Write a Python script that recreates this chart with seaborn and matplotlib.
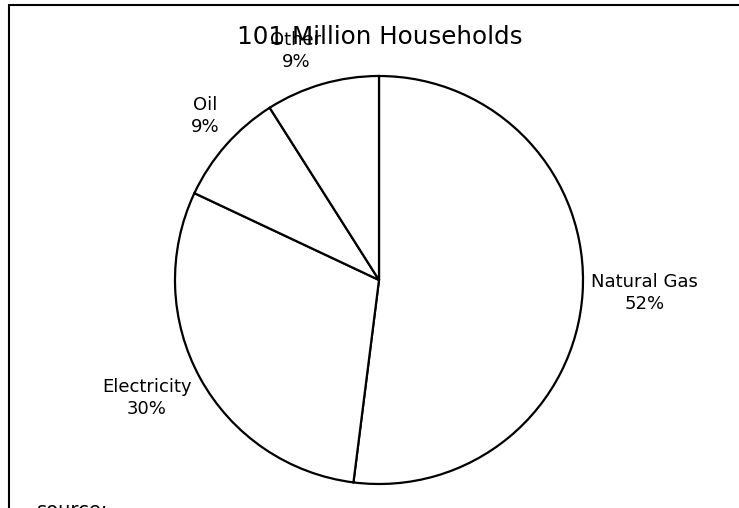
import matplotlib
matplotlib.use("Agg")
import matplotlib.pyplot as plt
import seaborn as sns
from matplotlib.lines import Line2D

categories = ["Natural Gas", "Electricity", "Oil", "Other"]
shares = [52, 30, 9, 9]
title_text = "101 Million Households"
source_text = "source:"

# label block centres (pie radius = 1)
label_pos = [(1.30, -0.064), (-1.139, -0.578), (-0.853, 0.804), (-0.407, 1.123)]

sns.set_theme(style="white")
plt.rcParams["font.family"] = ["DejaVu Sans"]

fig = plt.figure(figsize=(7.39, 5.08), dpi=100)
fig.patch.set_facecolor("white")

ax = fig.add_axes([175 / 739, 24 / 508, 408 / 739, 408 / 508])
wedges, _ = ax.pie(
    shares,
    startangle=90,
    counterclock=False,
    colors=["white"] * len(shares),
    wedgeprops=dict(edgecolor="black", linewidth=1.6),
    radius=1.0,
)
ax.set_xlim(-1, 1)
ax.set_ylim(-1, 1)
ax.set_aspect("equal")
ax.axis("off")

for cat, val, (x, y) in zip(categories, shares, label_pos):
    ax.text(x, y, f"{cat}\n{val}%", ha="center", va="center",
            fontsize=13, linespacing=1.25, color="black", clip_on=False)

fig.text(380 / 739, 1 - 37 / 508, title_text, ha="center", va="center",
         fontsize=17.7, color="black")

fig.text(37 / 739, -7.5 / 508, source_text, ha="left", va="baseline",
         fontsize=14, color="black")

# frame lines (left and top)
fig.add_artist(Line2D([8.5 / 739, 8.5 / 739], [-0.05, 1 - 4.5 / 508],
                      transform=fig.transFigure, color="black", linewidth=1.5))
fig.add_artist(Line2D([8.5 / 739, 1.05], [1 - 4.5 / 508, 1 - 4.5 / 508],
                      transform=fig.transFigure, color="black", linewidth=1.5))

fig.savefig("out.png", dpi=100, facecolor="white")
